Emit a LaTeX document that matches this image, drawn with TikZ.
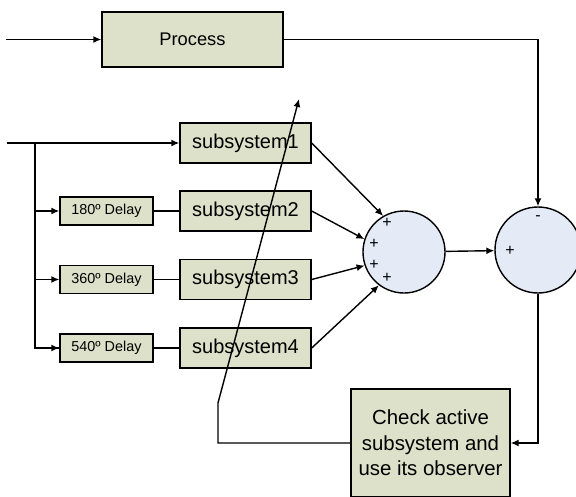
\documentclass[tikz,border=0pt]{standalone}
\usepackage{fontspec}
\setmainfont{Liberation Sans}
\usetikzlibrary{arrows.meta, positioning, calc}

\definecolor{boxfill}{RGB}{221,225,201}
\definecolor{sumfill}{RGB}{228,235,247}

\tikzset{
  blk/.style={draw, line width=1.4pt, fill=boxfill, inner sep=0pt},
  dly/.style={blk, minimum width=93, minimum height=28, font=\fontsize{14.4}{16}\selectfont},
  sub/.style={blk, minimum width=131, minimum height=40, font=\fontsize{20}{22}\selectfont},
  sumnode/.style={draw, line width=1.4pt, fill=sumfill, circle, inner sep=0pt},
  sgn/.style={font=\fontsize{16}{16}\selectfont, inner sep=0pt},
  arr/.style={line width=1.4pt, -{Latex[length=8pt,width=7pt]}},
  ln/.style={line width=1.4pt}
}

\begin{document}
\begin{tikzpicture}[x=1pt, y=-1pt]
  \clip (0,0) rectangle (576,496);
  \fill[white] (0,0) rectangle (576,496);

  % blocks
  \node[blk, minimum width=181, minimum height=55, font=\fontsize{18.3}{20}\selectfont] (process) at (192.5,39.5) {Process};

  \node[sub] (sub1) at (245.5,143) {subsystem1};
  \node[sub] (sub2) at (245.5,211) {subsystem2};
  \node[sub] (sub3) at (245.5,279.5) {subsystem3};
  \node[sub] (sub4) at (245.5,348) {subsystem4};

  \node[dly] (d180) at (106.5,211) {180º Delay};
  \node[dly] (d360) at (106.5,279.5) {360º Delay};
  \node[dly] (d540) at (106.5,348) {540º Delay};

  \node[sumnode, minimum size=82] (sum) at (404,252) {};
  \node[sumnode, minimum size=86] (cmp) at (538,250) {};

  \node[blk, minimum width=159, minimum height=108, align=center,
        font=\fontsize{20.4}{25.5}\selectfont] (check) at (430.5,443)
        {Check active\\subsystem and\\use its observer};

  % signs
  \node[sgn] (p1) at (387,223) {+};
  \node[sgn] (p2) at (374,244) {+};
  \node[sgn] (p3) at (374,265) {+};
  \node[sgn] (p4) at (387,278) {+};
  \node[sgn] (pc) at (510,251) {+};
  \node[sgn] (mc) at (538,218) {-};

  % inputs
  \coordinate (in1) at (6,39.5);
  \coordinate (in2) at (7,143);
  \coordinate (br) at (35,143);
  \draw[arr] (in1) -- (process.west);
  \draw[arr] (in2) -- (sub1.west);
  \draw[ln] (br) |- (d540.west);
  \draw[arr] (br |- d180) -- (d180.west);
  \draw[arr] (br |- d360) -- (d360.west);
  \draw[arr] (br |- d540) -- (d540.west);

  \draw[ln] (d180) -- (sub2);
  \draw[ln] (d360) -- (sub3);
  \draw[ln] (d540) -- (sub4);

  % into the summing junction
  \draw[arr] (sub1.east) -- (sum.120);
  \draw[arr] (sub2.east) -- (sum.162);
  \draw[arr] (sub3.east) -- (sum.199);
  \draw[arr] (sub4.east) -- (sum.233);

  \draw[arr] (sum) -- (cmp);
  \draw[arr] (process.east) -| (cmp.north);
  \draw[arr] (cmp.south) |- (check.east);

  % observer selection
  \coordinate (knee) at (218,403);
  \coordinate (tip) at (299,99);
  \draw[arr] (check.west) -| (knee) -- (tip);
\end{tikzpicture}
\end{document}
